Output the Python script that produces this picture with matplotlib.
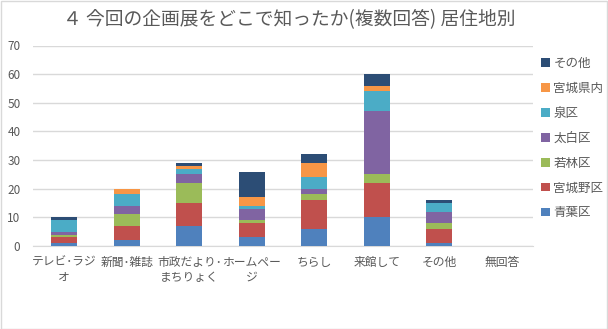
import matplotlib
matplotlib.use("Agg")
import matplotlib.pyplot as plt
from matplotlib.patches import Rectangle, Patch
import numpy as np

plt.rcParams['font.family'] = ['Noto Sans CJK JP', 'DejaVu Sans']

categories = ["テレビ･ラジ\nオ", "新聞･雑誌", "市政だより･\nまちりょく", "ホームペー\nジ",
              "ちらし", "来館して", "その他", "無回答"]
series_names = ["青葉区", "宮城野区", "若林区", "太白区", "泉区", "宮城県内", "その他"]
aoba      = [1, 2, 7, 3, 6, 10, 1, 0]
miyagino  = [2, 5, 8, 5, 10, 12, 5, 0]
wakabayashi = [1, 4, 7, 1, 2, 3, 2, 0]
taihaku   = [1, 3, 3, 4, 2, 22, 4, 0]
izumi     = [4, 4, 2, 1, 4, 7, 3, 0]
kennai    = [0, 2, 1, 3, 5, 2, 0, 0]
sonota    = [1, 0, 1, 9, 3, 4, 1, 0]
series_values = [aoba, miyagino, wakabayashi, taihaku, izumi, kennai, sonota]
colors = ["#4F81BD", "#C0504D", "#9BBB59", "#8064A2", "#4BACC6", "#F79646", "#2C4D75"]
yticks = [0, 10, 20, 30, 40, 50, 60, 70]
title = "４ 今回の企画展をどこで知ったか(複数回答) 居住地別"

W, H = 608, 329
fig = plt.figure(figsize=(W / 100, H / 100), dpi=100)
fig.patch.set_facecolor("white")
fig.patches.append(Rectangle((0.5 / W, 0.5 / H), 1 - 1.5 / W, 1 - 1.5 / H,
                             transform=fig.transFigure, fill=False,
                             edgecolor="#D9D9D9", linewidth=1.0))

ax = fig.add_axes([33 / W, (H - 246) / H, 500 / W, 200.5 / H])
x = np.arange(len(categories))
bottom = np.zeros(len(categories))
handles = []
for name, vals, c in zip(series_names, series_values, colors):
    ax.bar(x, vals, width=0.41, bottom=bottom, color=c, label=name, zorder=3)
    bottom += np.array(vals)
    handles.append(Patch(facecolor=c, label=name))

ax.set_xlim(-0.5, len(categories) - 0.5)
ax.set_ylim(0, 70)
ax.set_yticks(yticks)
ax.yaxis.grid(True, color="#D9D9D9", linewidth=1.0, zorder=0)
ax.set_axisbelow(True)
for s in ["top", "right", "left"]:
    ax.spines[s].set_visible(False)
ax.spines["bottom"].set_color("#D9D9D9")
ax.tick_params(axis="both", length=0, colors="#595959", labelsize=8.5)
ax.tick_params(axis="y", pad=9)
ax.set_xticks(x)
ax.set_xticklabels(categories, linespacing=1.2)
ax.tick_params(axis="x", pad=7)

fig.text(289 / W, 1 - 20 / H, title, ha="center", va="center",
         fontsize=13.5, color="#595959")

leg = fig.legend(handles=handles[::-1], loc="upper left",
                 bbox_to_anchor=(536 / W, 1 - 52 / H), frameon=False,
                 fontsize=9, handlelength=0.7, handleheight=0.7,
                 handletextpad=0.3, labelspacing=0.95, borderaxespad=0)
for t in leg.get_texts():
    t.set_color("#595959")

fig.savefig("out.png", dpi=100)
